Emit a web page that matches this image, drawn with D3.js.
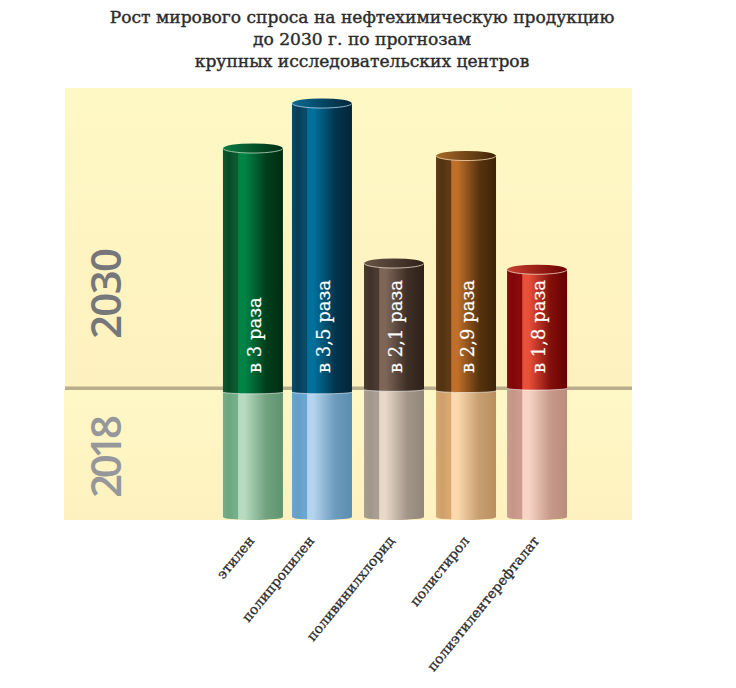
<!DOCTYPE html>
<html>
<head>
<meta charset="utf-8">
<script src="https://cdnjs.cloudflare.com/ajax/libs/d3/7.8.5/d3.min.js"></script>
<style>
html, body { margin: 0; padding: 0; background: #fff; }
svg { display: block; }
text { font-family: "DejaVu Serif", serif; }
</style>
</head>
<body>
<div id="chart"></div>
<script>
// values, 2018 level = 1
var categories = ['этилен', 'полипропилен', 'поливинилхлорид', 'полистирол', 'полиэтилентерефталат'];
var values2018 = [1, 1, 1.02, 1.01, 1.03];
var values2030 = [2.95, 3.31, 2.03, 2.89, 1.98];
var growthLabels = ['в 3 раза', 'в 3,5 раза', 'в 2,1 раза', 'в 2,9 раза', 'в 1,8 раза'];
var titleLines = ['Рост мирового спроса на нефтехимическую продукцию', 'до 2030 г. по прогнозам', 'крупных исследовательских центров'];
var yearLabels = ['2030', '2018'];

// dark, highlight, right edge
var darkColors = [
	['#0b5a30', '#008445', '#002d12'],
	['#0b4a68', '#00719b', '#02263a'],
	['#4a3a32', '#7d6658', '#2e2119'],
	['#5e3a17', '#bf6f2a', '#3d2407'],
	['#8c0a0c', '#e8503a', '#690000']
];
var lightColors = [
	['#74b08a', '#b8dac0', '#5f9470'],
	['#6ba7d2', '#b3d3ee', '#5a8db0'],
	['#a89e93', '#e8d8c8', '#918679'],
	['#d9a871', '#fbd8ad', '#b98f60'],
	['#cc9c8e', '#f8d4c4', '#b98c7c']
];
var capColors = ['#0a7a42', '#0a6a90', '#6a5548', '#a86a28', '#c9402f'];

var width = 736, height = 688;
var rx = 30, topRy = 4.8, bottomRy = 3;
// small layout corrections: the columns and labels are not evenly spaced in the original
var barNudge = [0, -2, -1, 0, 0];
var labelNudge = [2, -7, 1, 4, 3];

var svg = d3.select('#chart').append('svg')
	.attr('width', width)
	.attr('height', height);

var defs = svg.append('defs');

var x = d3.scaleBand()
	.domain(categories)
	.range([223, 567])
	.paddingInner(0.157);

var y = d3.scaleLinear()
	.domain([0, 1])
	.range([517, 392]);

function center(d, i){
	return x(d) + x.bandwidth() / 2 + barNudge[i];
}

function addPanelGradient(id, c0, c1){
	var g = defs.append('linearGradient').attr('id', id).attr('x1', 0).attr('x2', 0).attr('y1', 0).attr('y2', 1);
	g.append('stop').attr('offset', 0).attr('stop-color', c0);
	g.append('stop').attr('offset', 1).attr('stop-color', c1);
}
addPanelGradient('panelTop', '#fef8c5', '#fdf1bf');
addPanelGradient('panelBottom', '#fef8c6', '#fdf1bf');

//cylinder shading, the same stops for all of them
function addBodyGradient(id, c){
	var g = defs.append('linearGradient').attr('id', id);
	var stops = [
		[0, c[0]],
		[0.1, d3.interpolateRgb(c[0], c[2])(0.35)],
		[0.2, c[0]],
		[0.25, c[0]],
		[0.26, c[1]],
		[0.36, c[1]],
		[0.72, d3.interpolateRgb(c[1], c[2])(0.8)],
		[1, c[2]]
	];
	stops.forEach(function(s){
		g.append('stop').attr('offset', s[0]).attr('stop-color', s[1]);
	});
}
categories.forEach(function(d, i){
	addBodyGradient('dark' + i, darkColors[i]);
	addBodyGradient('light' + i, lightColors[i]);
	var cap = defs.append('linearGradient').attr('id', 'cap' + i);
	cap.append('stop').attr('offset', 0).attr('stop-color', capColors[i]);
	cap.append('stop').attr('offset', 1).attr('stop-color', darkColors[i][2]);
});

//background panels
svg.append('rect').attr('x', 65).attr('y', 88).attr('width', 567).attr('height', 300).attr('fill', 'url(#panelTop)');
svg.append('rect').attr('x', 64).attr('y', 390).attr('width', 568).attr('height', 130).attr('fill', 'url(#panelBottom)');
svg.append('rect').attr('x', 65).attr('y', 386.5).attr('width', 567).attr('height', 3.5).attr('fill', '#b9ae8b');

//title
svg.append('g').selectAll('text')
	.data(titleLines).enter()
	.append('text')
		.attr('x', 362)
		.attr('y', function(d, i){ return 23 + i * 22; })
		.attr('text-anchor', 'middle')
		.attr('font-size', 17.1)
		.attr('stroke', '#2b2b2b')
		.attr('stroke-width', 0.4)
		.attr('fill', '#2b2b2b')
		.text(function(d){ return d; });

//year labels
svg.append('text')
	.attr('transform', 'translate(121,339) rotate(-90)')
	.attr('font-size', 42)
	.attr('textLength', 91)
	.attr('lengthAdjust', 'spacing')
	.attr('fill', '#76777a')
	.style('font-family', '"Open Sans"')
	.style('font-weight', 600)
	.text(yearLabels[0]);
svg.append('text')
	.attr('transform', 'translate(121,498) rotate(-90)')
	.attr('font-size', 42)
	.attr('textLength', 83)
	.attr('lengthAdjust', 'spacing')
	.attr('fill', '#96979b')
	.style('font-family', '"Open Sans"')
	.style('font-weight', 600)
	.text(yearLabels[1]);

function bodyPath(cx, yTop, yBottom, ryBottom){
	return 'M' + (cx - rx) + ',' + yTop +
		'L' + (cx - rx) + ',' + yBottom +
		'A' + rx + ',' + ryBottom + ' 0 0 0 ' + (cx + rx) + ',' + yBottom +
		'L' + (cx + rx) + ',' + yTop + 'Z';
}
function frontArc(cx, yy, ry){
	return 'M' + (cx - rx) + ',' + yy + 'A' + rx + ',' + ry + ' 0 0 0 ' + (cx + rx) + ',' + yy;
}

var bars = svg.append('g').selectAll('g')
	.data(categories).enter()
	.append('g');

//lower part, 2018
bars.append('path')
	.attr('d', function(d, i){ return bodyPath(center(d, i), y(values2018[i]), y(0), bottomRy); })
	.attr('fill', function(d, i){ return 'url(#light' + i + ')'; });

//upper part, 2030
bars.append('path')
	.attr('d', function(d, i){ return bodyPath(center(d, i), y(values2030[i]), y(values2018[i]), 1.8); })
	.attr('fill', function(d, i){ return 'url(#dark' + i + ')'; });

//white seam between the two parts
bars.append('path')
	.attr('d', function(d, i){ return frontArc(center(d, i), y(values2018[i]), 1.8); })
	.attr('fill', 'none')
	.attr('stroke', '#fff')
	.attr('stroke-opacity', 0.8)
	.attr('stroke-width', 0.7);

//top cap
bars.append('ellipse')
	.attr('cx', center)
	.attr('cy', function(d, i){ return y(values2030[i]); })
	.attr('rx', rx)
	.attr('ry', topRy)
	.attr('fill', function(d, i){ return 'url(#cap' + i + ')'; });

bars.append('path')
	.attr('d', function(d, i){ return frontArc(center(d, i), y(values2030[i]), topRy); })
	.attr('fill', 'none')
	.attr('stroke', function(d, i){ return lightColors[i][1]; })
	.attr('stroke-width', 0.8);

//growth labels
bars.append('text')
	.attr('transform', function(d, i){ return 'translate(' + (center(d, i) + 8) + ',373) rotate(-90)'; })
	.attr('font-size', 18)
	.attr('fill', '#fff')
	.attr('stroke', '#fff')
	.attr('stroke-width', 0.2)
	.text(function(d, i){ return growthLabels[i]; });

//category labels
bars.append('text')
	.attr('transform', function(d, i){ return 'translate(' + (center(d, i) + labelNudge[i]) + ',541) rotate(-51)'; })
	.attr('text-anchor', 'end')
	.attr('font-size', 13.7)
	.attr('fill', '#2b2b2b')
	.attr('stroke', '#2b2b2b')
	.attr('stroke-width', 0.3)
	.text(function(d){ return d; });
</script>
</body>
</html>
